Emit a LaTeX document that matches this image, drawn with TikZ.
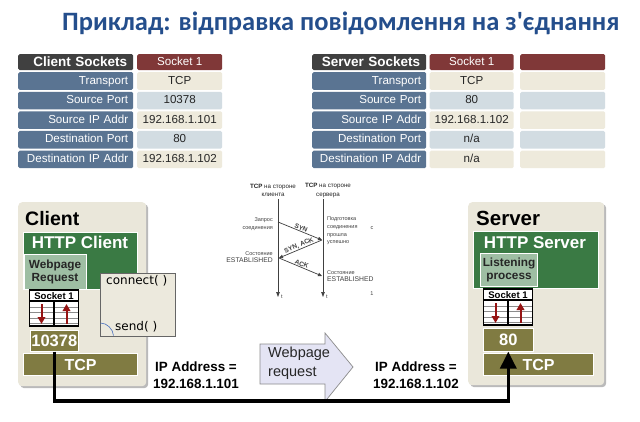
\documentclass[tikz,border=0pt]{standalone}
\usepackage{fontspec}
\setmainfont{Liberation Sans}
\newfontfamily\titlefont{Carlito}
\newfontfamily\notefont{DejaVu Sans}
\usetikzlibrary{arrows.meta,shadows}

\definecolor{titleblue}{RGB}{36,78,140}
\definecolor{hdrgray}{RGB}{64,64,64}
\definecolor{sockred}{RGB}{128,56,56}
\definecolor{lblblue}{RGB}{90,116,146}
\definecolor{cellbeige}{RGB}{238,234,220}
\definecolor{cellblue}{RGB}{210,220,226}
\definecolor{panel}{RGB}{234,231,218}
\definecolor{appgreen}{RGB}{58,122,68}
\definecolor{procgreen}{RGB}{158,190,163}
\definecolor{olive}{RGB}{128,123,66}
\definecolor{noteback}{RGB}{236,233,221}
\definecolor{lavender}{RGB}{228,228,244}
\definecolor{arrowred}{RGB}{150,20,20}
\definecolor{notearc}{RGB}{70,110,190}

\tikzset{
  cell/.style={anchor=north west, inner ysep=0pt, minimum height=17.6pt,
    rounded corners=1.5pt, text height=8.4pt, text depth=2.2pt,
    font=\fontsize{11.6}{12}\selectfont},
  lbl/.style={cell, fill=lblblue, text=white, inner xsep=5pt, align=right},
  val/.style={cell, inner xsep=0pt, minimum width=#1, text=black!85},
  hdr/.style={cell, minimum height=16pt, fill=hdrgray, text=white, inner xsep=6pt,
    align=right, font=\bfseries\fontsize{13.5}{14}\selectfont, text height=10pt},
  sockhdr/.style={cell, minimum height=16pt, fill=sockred, text=white, inner xsep=0pt,
    minimum width=#1, font=\fontsize{11.6}{12}\selectfont},
  panelbox/.style={anchor=north west, fill=panel, rounded corners=4pt, inner sep=0pt,
    drop shadow={shadow xshift=2pt, shadow yshift=-2pt, fill=black!45, opacity=.6}},
  paneltitle/.style={anchor=base west, inner sep=0pt, font=\bfseries\fontsize{#1}{22}\selectfont},
  appbar/.style={anchor=north west, fill=appgreen, draw=white, line width=1.2pt, inner sep=0pt},
  apptext/.style={anchor=base, inner sep=0pt, text=white, font=\bfseries\fontsize{17}{18}\selectfont},
  procbox/.style={anchor=north west, fill=procgreen, draw=white, line width=1pt, inner sep=0pt,
    align=center, text=black!85, font=\bfseries\fontsize{11.8}{13.5}\selectfont},
  portbox/.style={anchor=north west, fill=olive, draw=white, line width=.6pt, inner sep=0pt,
    text=white, font=\bfseries\fontsize{16.5}{17}\selectfont},
  tcpbar/.style={anchor=north west, fill=olive, draw=white, line width=1.2pt, inner sep=0pt,
    text=white, font=\bfseries\fontsize{16}{17}\selectfont},
  iplabel/.style={align=center, inner sep=0pt, font=\bfseries\fontsize{13.4}{17}\selectfont},
  notetext/.style={anchor=west, inner sep=0pt, font=\notefont\fontsize{12}{13}\selectfont},
  hs/.style={inner sep=0pt, text=black!75, font=\fontsize{5.5}{7.6}\selectfont},
  hshead/.style={hs, align=center, text=black!85, font=\fontsize{6.2}{8.6}\selectfont},
  hsmsg/.style={hs, sloped, above=0.6pt, font=\bfseries\fontsize{6.5}{7}\selectfont},
  hsline/.style={black!75, line width=.7pt},
  sockpic/.pic={
    \fill[white] (0,0) rectangle (49,36);
    \foreach \yy in {17,22.5,28,33}{
      \draw[black!45, line width=.5pt] (0,\yy) -- (49,\yy);
    }
    \draw[line width=1.1pt] (0,11) -- (49,11);
    \draw[line width=1.4pt] (24.5,11) -- (24.5,36);
    \draw[line width=1.4pt] (0,0) rectangle (49,36);
    \node[inner sep=0pt, font=\bfseries\fontsize{9.6}{10}\selectfont] (-name) at (24.5,5.9) {Socket 1};
    \coordinate (-dtop) at (12,14);
    \coordinate (-dbot) at (12,34);
    \coordinate (-utop) at (37,14);
    \coordinate (-ubot) at (37,34);
    \draw[arrowred, line width=2pt, -{Triangle[length=7pt,width=7.5pt]}] (-dtop) -- (-dbot);
    \draw[arrowred, line width=2pt, -{Triangle[length=7pt,width=7.5pt]}] (-ubot) -- (-utop);
  }
}

\begin{document}
\begin{tikzpicture}[x=1pt, y=-1pt]
\useasboundingbox[fill=white] (0,0) rectangle (640,422);

% heading
\node[anchor=base west, inner sep=0pt, text=titleblue,
  font=\titlefont\bfseries\fontsize{26.5}{30}\selectfont] (title) at (62,31)
  {Приклад: відправка повідомлення на з'єднання};

% client socket table
\node[hdr, minimum width=115, text width=103pt] (chdr) at (18,54) {Client Sockets};
\node[sockhdr=85] (csock) at (137,54) {Socket 1};
\foreach \i/\lab/\val/\col in {0/Transport/TCP/cellbeige,
    1/Source Port/10378/cellblue,
    2/Source IP Addr/192.168.1.101/cellbeige,
    3/Destination Port/80/cellblue,
    4/Destination IP Addr/192.168.1.102/cellbeige}{
  \node[lbl, minimum width=115, text width=105pt] (cl\i) at (18,72+19.6*\i) {\lab};
  \node[val=85, fill=\col] (cv\i) at (137,72+19.6*\i) {\val};
}

% server socket table
\node[hdr, minimum width=114, text width=102pt] (shdr) at (312,54) {Server Sockets};
\node[sockhdr=84] (ssock) at (429.5,54) {Socket 1};
\node[sockhdr=85] (ssock2) at (520,54) {};
\foreach \i/\lab/\val/\col in {0/Transport/TCP/cellbeige,
    1/Source Port/80/cellblue,
    2/Source IP Addr/192.168.1.102/cellbeige,
    3/Destination Port/n\slash a/cellblue,
    4/Destination IP Addr/n\slash a/cellbeige}{
  \node[lbl, minimum width=114, text width=104pt] (sl\i) at (312,72+19.6*\i) {\lab};
  \node[val=84, fill=\col] (sv\i) at (429.5,72+19.6*\i) {\val};
  \node[val=85, fill=\col] (sx\i) at (520,72+19.6*\i) {};
}

% client host
\node[panelbox, minimum width=128, minimum height=184] (client) at (18,202) {};
\node[paneltitle=19.5] (clientname) at (25,226) {Client};
\node[appbar, minimum width=114, minimum height=57] (httpc) at (23,232) {};
\node[apptext] (httpctext) at (80,249) {HTTP Client};
\node[procbox, minimum width=62, minimum height=34] (req) at (23.5,254.5) {Webpage\\Request};
\node[anchor=north west, fill=noteback, draw=black!60, line width=.7pt,
  minimum width=75, minimum height=63, inner sep=0pt] (note) at (100,273) {};
\draw[notearc, line width=.6pt] (100.5,323) .. controls (107,323) and (113,329) .. (113.5,335.5);
\node[notetext] (conn) at (106,281) {connect( )};
\node[notetext] (sendcall) at (115,327) {send( )};
\pic (csk) at (29.5,290) {sockpic};
\node[portbox, minimum width=48, minimum height=21] (cport) at (30,330) {10378};
\node[tcpbar, minimum width=114, minimum height=22] (ctcp) at (23,353) {TCP};

% server host
\node[panelbox, minimum width=136, minimum height=183] (server) at (468,202) {};
\node[paneltitle=20.5] (servername) at (476,226) {Server};
\node[appbar, minimum width=125, minimum height=57] (https) at (473,231) {};
\node[apptext] (httpstext) at (535,248) {HTTP Server};
\node[procbox, minimum width=57, minimum height=33] (listen) at (480,253) {Listening\\process};
\pic (ssk) at (483.5,289) {sockpic};
\node[portbox, minimum width=50, minimum height=23] (sport) at (483,328) {80};
\node[tcpbar, minimum width=110, minimum height=22] (stcp) at (483,353) {TCP};

% addresses
\node[iplabel] (cip) at (196,375) {IP Address =\\192.168.1.101};
\node[iplabel] (sip) at (416,375) {IP Address =\\192.168.1.102};

% request arrow
\draw[fill=lavender, draw=black!45, line width=.7pt, line join=miter]
  (260,344) -- (325,344) -- (325,333) -- (353,367) -- (325,401.5) -- (325,384) -- (260,384) -- cycle;
\node[anchor=west, align=left, inner sep=0pt, text=black!85,
  font=\fontsize{14.5}{19}\selectfont] (reqtext) at (268,363) {Webpage\\request};

% three-way handshake
\node[hshead] (hcl) at (273,190.5) {\textbf{TCP} на стороне\\клиента};
\node[hshead] (hsv) at (328,190.5) {\textbf{TCP} на стороне\\сервера};
\coordinate (lt) at (278,199);
\coordinate (lb) at (278,297);
\coordinate (rt) at (323,199);
\coordinate (rb) at (323,297);
\draw[hsline, -{Triangle[length=5pt,width=3.5pt]}] (lt) -- (lb);
\draw[hsline, -{Triangle[length=5pt,width=3.5pt]}] (rt) -- (rb);
\node[hs, anchor=north west] (ltt) at (281,295) {t};
\node[hs, anchor=north west] (rtt) at (326,295) {t};
\coordinate (syn1) at (278,222);
\coordinate (syn2) at (322,240);
\coordinate (sa2) at (279,258);
\coordinate (ack2) at (322,276);
\draw[hsline, -{Triangle[length=4pt,width=3.5pt]}] (syn1) -- node[hsmsg] {SYN} (syn2);
\draw[hsline, -{Triangle[length=4pt,width=3.5pt]}] (syn2) -- node[hsmsg] {SYN, ACK} (sa2);
\draw[hsline, -{Triangle[length=4pt,width=3.5pt]}] (sa2) -- node[hsmsg] {ACK} (ack2);
\node[hs, align=right, anchor=east] (hreq) at (273,224) {Запрос\\соединения};
\node[hs, align=right, anchor=east] (hest1) at (273,257) {Состояние\\{\fontsize{6.8}{7}\selectfont ESTABLISHED}};
\node[hs, align=left, anchor=west] (hprep) at (327,231) {Подготовка\\соединения\\прошла\\успешно};
\node[hs, align=left, anchor=west] (hest2) at (327,276) {Состояние\\{\fontsize{6.8}{7}\selectfont ESTABLISHED}};
\node[hs] (hc) at (372,228) {c};
\node[hs] (hone) at (372,294) {1};

% connection path between the two ports
\coordinate (low) at (0,401);
\draw[line width=3.5pt, line join=miter, -{Triangle[length=17pt,width=16pt]}]
  (cport.south) -- (cport.south |- low) -- (sport.south |- low) -- (sport.south);
\end{tikzpicture}
\end{document}
